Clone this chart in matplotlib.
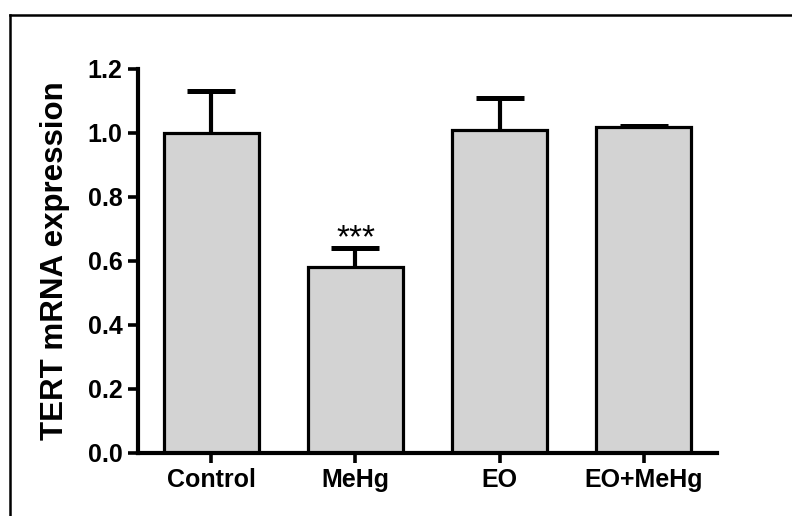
import matplotlib
matplotlib.use("Agg")
import matplotlib.pyplot as plt
from matplotlib.lines import Line2D

categories = ["Control", "MeHg", "EO", "EO+MeHg"]
means = [1.00, 0.58, 1.01, 1.02]
sem = [0.13, 0.06, 0.10, 0.003]
yticks = [0.0, 0.2, 0.4, 0.6, 0.8, 1.0, 1.2]
ytick_labels = ["0.0", "0.2", "0.4", "0.6", "0.8", "1.0", "1.2"]
ylabel = "TERT mRNA expression"
sig_label = "***"
sig_index = 1
sig_y = 0.643

plt.rcParams['font.family'] = ['Liberation Sans', 'DejaVu Sans']

fig = plt.figure(figsize=(7.92, 5.16), dpi=100)
ax = fig.add_axes([138/792, 1-453/516, (717-138)/792, (453-69)/516])

x = list(range(len(categories)))
ax.bar(x, means, width=0.66, color="#d3d3d3", edgecolor="black", linewidth=2.3, zorder=2)
eb = ax.errorbar(x, means, yerr=[[0]*len(sem), sem], fmt="none", ecolor="black",
                 elinewidth=3.0, capsize=17, capthick=3.6, zorder=3)
# hide the lower caps (only upper error bars are shown)
caplines = eb[1]
if len(caplines) >= 2:
    caplines[0].set_visible(False)

ax.text(x[sig_index], sig_y, sig_label, ha="center", va="baseline", fontsize=24,
        fontweight="normal")

ax.set_xlim(-0.51, 3.51)
ax.set_ylim(0, 1.2)
ax.set_yticks(yticks)
ax.set_yticklabels(ytick_labels)
ax.set_xticks(x)
ax.set_xticklabels(categories)

for lab in ax.get_xticklabels() + ax.get_yticklabels():
    lab.set_fontweight("bold")
    lab.set_fontsize(18)

ax.tick_params(axis="both", direction="out", length=7, width=2.6, pad=4, color="black")
ax.spines["top"].set_visible(False)
ax.spines["right"].set_visible(False)
for s in ("left", "bottom"):
    ax.spines[s].set_linewidth(3.0)

ax.set_ylabel(ylabel, fontsize=22.5, fontweight="bold", va="center")
ax.yaxis.set_label_coords(-0.143, 0.5)

# partial frame around figure (top and left edges)
fig.add_artist(Line2D([10/792, 1.0], [1-15/516, 1-15/516], transform=fig.transFigure,
                      color="black", linewidth=1.8))
fig.add_artist(Line2D([10/792, 10/792], [0.0, 1-15/516], transform=fig.transFigure,
                      color="black", linewidth=1.8))

fig.savefig("out.png", dpi=100)
